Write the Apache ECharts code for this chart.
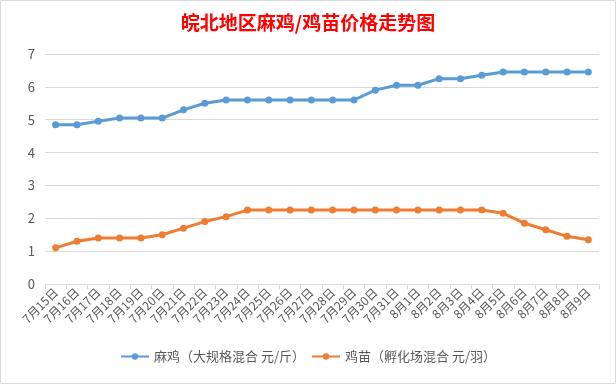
<!DOCTYPE html>
<html><head><meta charset="utf-8">
<script src="https://cdn.jsdelivr.net/npm/echarts@6/dist/echarts.min.js"></script>
<style>html,body{margin:0;padding:0;background:#fff}#c{width:616px;height:384px}</style>
</head><body><div id="c"></div>
<script>
const categories = ['7月15日','7月16日','7月17日','7月18日','7月19日','7月20日','7月21日','7月22日','7月23日','7月24日','7月25日','7月26日','7月27日','7月28日','7月29日','7月30日','7月31日','8月1日','8月2日','8月3日','8月4日','8月5日','8月6日','8月7日','8月8日','8月9日'];
const maji = [4.85,4.85,4.95,5.05,5.05,5.05,5.3,5.5,5.6,5.6,5.6,5.6,5.6,5.6,5.6,5.9,6.05,6.05,6.25,6.25,6.35,6.45,6.45,6.45,6.45,6.45];
const jimiao = [1.1,1.3,1.4,1.4,1.4,1.5,1.7,1.9,2.05,2.25,2.25,2.25,2.25,2.25,2.25,2.25,2.25,2.25,2.25,2.25,2.25,2.15,1.85,1.65,1.45,1.35];
const seriesNames = ['麻鸡（大规格混合 元/斤）','鸡苗（孵化场混合 元/羽）'];
const chart = echarts.init(document.getElementById('c'));
const font = "'Noto Sans CJK SC', sans-serif";
chart.setOption({
  animation:false,
  backgroundColor:'#fff',
  title:{text:'皖北地区麻鸡/鸡苗价格走势图',left:'center',top:8,textStyle:{color:'#ff0000',fontSize:19,fontWeight:'bold',fontFamily:font}},
  grid:{left:45,right:17,top:54,bottom:100},
  legend:{bottom:16,left:'center',itemWidth:28,itemHeight:8,itemGap:6,textStyle:{color:'#595959',fontSize:13,fontFamily:font},data:seriesNames},
  xAxis:{type:'category',data:categories,boundaryGap:true,
    axisLine:{lineStyle:{color:'#d9d9d9'}},axisTick:{show:true,lineStyle:{color:'#d9d9d9'},length:5},
    axisLabel:{rotate:45,interval:0,color:'#595959',fontSize:12,fontFamily:font,margin:6}},
  yAxis:{type:'value',min:0,max:7,interval:1,
    axisLine:{show:false},axisTick:{show:false},
    splitLine:{lineStyle:{color:'#d9d9d9'}},
    axisLabel:{color:'#595959',fontSize:13,fontFamily:font,margin:10}},
  graphic:[{type:'rect',shape:{x:0.5,y:0.5,width:615,height:383},style:{fill:null,stroke:'#d9d9d9',lineWidth:1},silent:true}],
  series:[
    {name:seriesNames[0],type:'line',data:maji,symbol:'circle',symbolSize:7,itemStyle:{color:'#5b9bd5'},lineStyle:{width:3,color:'#5b9bd5'}},
    {name:seriesNames[1],type:'line',data:jimiao,symbol:'circle',symbolSize:7,itemStyle:{color:'#ed7d31'},lineStyle:{width:3,color:'#ed7d31'}}
  ]
});
</script></body></html>
